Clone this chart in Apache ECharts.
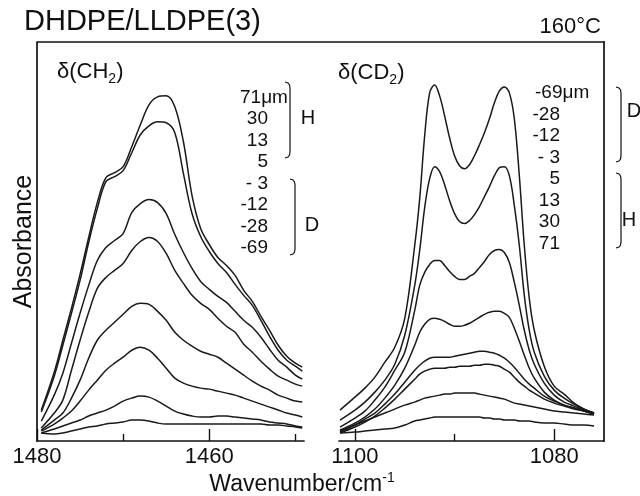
<!DOCTYPE html>
<html>
<head>
<meta charset="utf-8">
<script src="https://cdn.jsdelivr.net/npm/echarts@6/dist/echarts.min.js"></script>
<style>
  html, body { margin: 0; padding: 0; background: #fff; }
  #chart { width: 640px; height: 496px; }
</style>
</head>
<body>
<div id="chart"></div>
<script>
// ---------- DATA ----------
const title = 'DHDPE/LLDPE(3)';
const temperature = '160°C';
const yAxisTitle = 'Absorbance';

// Left panel: delta(CH2) band, wavenumber (cm-1)
const leftWn = [1479.5,1478,1477,1476,1475,1474,1473,1472,1471,1470,1469,1468,1467,1466,1465,1464,1463,1462,1461,1460,1459,1458,1457,1456,1455,1454,1453,1452,1451,1450,1449.2];
const leftTicksMajor = [1480, 1460];
const leftTicksMinor = [1470, 1450];
const leftDepth = ['71μm', '30', '13', '5', '- 3', '-12', '-28', '-69'];
const ch2_71 = [31,69,101,133,167,204,239,264,269,275,295,317,337,345,346,335,300,246,213,197,184,176,166,151,140,125,111,96,85,78,74];
const ch2_30 = [29,65,96,128,161,199,233,260,265,271,289,307,316,320,319,309,268,228,205,190,178,169,157,146,136,121,105,91,81,75,70];
const ch2_13 = [20,46,68,98,128,156,181,194,201,208,229,238,242,239,228,207,189,173,160,152,145,139,130,121,114,104,92,81,74,66,62];
const ch2_5  = [13,28,41,71,101,129,153,164,171,178,191,200,204,200,188,171,158,146,138,132,123,115,109,97,89,80,72,65,61,57,55];
const ch2_m3 = [11,21,28,43,61,83,101,111,119,127,135,138,137,130,121,109,101,95,90,87,84,78,72,66,60,55,51,46,43,40,39];
const ch2_m12= [10,17,23,30,40,51,61,71,78,84,91,94,91,83,73,63,58,55,53,52,50,48,46,43,40,37,34,31,28,26,24];
const ch2_m28= [8,12,15,18,21,25,28,31,35,40,43,45,44,40,35,30,27,25,24,24,25,25,24,23,22,21,19,18,17,15,14];
const ch2_m69= [8,7,8,10,12,14,15,17,18,19,21,21,20,18,17,17,17,17,17,17,17,17,17,17,17,17,16,16,15,14,13];

// Right panel: delta(CD2) band
const rightWn = [1101.5,1100,1099,1098,1097,1096,1095,1094,1093.5,1093,1092.5,1092,1091.5,1091,1090.5,1090,1089.5,1089,1088.5,1088,1087.5,1087,1086.5,1086,1085.5,1085,1084.5,1084,1083.5,1083,1082.5,1082,1081,1080,1079,1078,1077,1076];
const rightTicksMajor = [1100, 1080];
const rightTicksMinor = [1090];
const rightDepth = ['-69μm', '-28', '-12', '- 3', '5', '13', '30', '71'];
const cd2_m69 = [31,44,53,64,79,94,123,196,243,306,349,357,346,326,304,286,276,273,277,286,297,309,323,339,351,355,349,323,266,196,143,111,75,55,47,38,32,28];
const cd2_m28 = [21,31,39,49,61,77,106,156,191,234,263,275,270,257,241,228,220,218,221,227,235,245,255,266,274,275,266,236,196,146,111,89,65,51,43,37,32,28];
const cd2_m12 = [14,23,30,41,54,71,89,131,156,169,177,181,181,176,170,165,162,162,165,168,174,180,187,191,192,189,179,159,136,111,91,77,58,46,39,35,31,28];
const cd2_m3  = [11,18,24,32,43,56,73,96,109,117,122,123,122,120,117,115,115,116,118,121,124,127,129,130,130,128,124,113,100,86,73,63,49,41,36,33,30,27];
const cd2_5   = [9,16,22,28,37,47,59,71,76,80,83,84,84,84,84,85,86,87,88,89,90,90,89,88,86,83,79,74,68,62,57,53,45,40,36,33,30,27];
const cd2_13  = [8,14,19,25,33,42,52,62,67,70,72,73,73,73,74,74,75,75,75,76,76,77,77,76,75,72,69,64,59,55,51,48,42,38,35,32,30,27];
const cd2_30  = [10,16,20,24,28,32,36,39,41,43,44,45,46,47,47,48,48,48,48,48,47,46,45,44,43,42,40,38,37,36,35,34,32,30,29,28,27,26];
const cd2_71  = [8,9,10,11,12,13,16,20,21,22,23,24,24,24,24,24,24,24,24,24,24,23,23,22,22,21,21,21,20,20,20,19,18,18,17,16,16,15];

// ---------- CHART ----------
const FONT = '"Liberation Sans", Arial, Helvetica, sans-serif';
const INK = '#111';
const chart = echarts.init(document.getElementById('chart'), null, { renderer: 'canvas' });

const leftSeries = [ch2_71, ch2_30, ch2_13, ch2_5, ch2_m3, ch2_m12, ch2_m28, ch2_m69];
const rightSeries = [cd2_m69, cd2_m28, cd2_m12, cd2_m3, cd2_5, cd2_13, cd2_30, cd2_71];

function mkLine(name, wn, vals, xi, yi) {
  return {
    name: name, type: 'line', xAxisIndex: xi, yAxisIndex: yi,
    data: wn.map((w, i) => [w, vals[i]]),
    showSymbol: false, smooth: 0.35, silent: true,
    lineStyle: { color: '#1a1a1a', width: 1.5 }
  };
}
const series = [];
leftSeries.forEach((s, i) => series.push(mkLine('δ(CH2) ' + leftDepth[i], leftWn, s, 0, 0)));
rightSeries.forEach((s, i) => series.push(mkLine('δ(CD2) ' + rightDepth[i], rightWn, s, 2, 1)));

const axisLineStyle = { show: true, lineStyle: { color: INK, width: 1.7 } };
function mainX(grid, min, max, major) {
  return {
    type: 'value', gridIndex: grid, position: 'bottom', min: min, max: max, inverse: true,
    axisLine: axisLineStyle,
    axisTick: { show: true, inside: true, length: 12, customValues: major, lineStyle: { color: INK, width: 1.4 } },
    axisLabel: { show: true, customValues: major, fontSize: 22, color: INK, fontFamily: FONT, margin: 5,
                 formatter: v => String(v) },
    splitLine: { show: false }
  };
}
function minorX(grid, min, max, minor) {
  return {
    type: 'value', gridIndex: grid, position: 'bottom', min: min, max: max, inverse: true,
    axisLine: { show: false },
    axisTick: { show: true, inside: true, length: 7, customValues: minor, lineStyle: { color: INK, width: 1.4 } },
    axisLabel: { show: false },
    splitLine: { show: false }
  };
}

function bracket(x, top, bottom) {
  return {
    type: 'polyline', silent: true,
    shape: { points: [[x-5, top], [x-2, top+1], [x-0.5, top+3], [x, top+6], [x, bottom-6], [x-0.5, bottom-3], [x-2, bottom-1], [x-5, bottom]] },
    style: { stroke: INK, lineWidth: 1.2, fill: null }
  };
}
function txt(text, x, y, size, align, extra) {
  return Object.assign({
    type: 'text', silent: true, x: x, y: y,
    style: { text: text, font: `${size}px ${FONT}`, fill: INK, align: align || 'left', verticalAlign: 'middle' }
  }, extra || {});
}

const graphics = [
  // top frame line spanning both panels
  { type: 'line', silent: true, shape: { x1: 37, y1: 42, x2: 605, y2: 42 }, style: { stroke: INK, lineWidth: 1.7 } },
  txt(title, 24, 22, 29, 'left'),
  txt(temperature, 601, 27, 22, 'right'),
  { type: 'text', silent: true, x: 57, y: 72,
    style: { text: '{a|δ(CH}{b|2}{a|)}', font: `22px ${FONT}`, fill: INK, align: 'left', verticalAlign: 'middle',
      rich: { a: { fontSize: 22, lineHeight: 28, fontFamily: FONT, verticalAlign: 'middle' },
              b: { fontSize: 14, lineHeight: 14, fontFamily: FONT, verticalAlign: 'bottom' } } } },
  { type: 'text', silent: true, x: 338, y: 73,
    style: { text: '{a|δ(CD}{b|2}{a|)}', font: `22px ${FONT}`, fill: INK, align: 'left', verticalAlign: 'middle',
      rich: { a: { fontSize: 22, lineHeight: 28, fontFamily: FONT, verticalAlign: 'middle' },
              b: { fontSize: 14, lineHeight: 14, fontFamily: FONT, verticalAlign: 'bottom' } } } },
  { type: 'text', silent: true, x: 302, y: 485,
    style: { text: '{a|Wavenumber/cm}{b|-1}', font: `23px ${FONT}`, fill: INK, align: 'center', verticalAlign: 'middle',
      rich: { a: { fontSize: 23, lineHeight: 28, fontFamily: FONT, verticalAlign: 'middle' },
              b: { fontSize: 14, lineHeight: 14, fontFamily: FONT, verticalAlign: 'top' } } } },
  bracket(290, 82, 158), txt('H', 308, 118, 20, 'center'),
  bracket(295, 179, 255), txt('D', 312, 225, 20, 'center'),
  bracket(621, 87, 162), txt('D', 634, 111, 20, 'center'),
  bracket(621, 173, 248), txt('H', 629, 220, 20, 'center')
];
const step = 21.5;
leftDepth.forEach((t, i) => {
  const y = 97.5 + i * step;
  graphics.push(t.indexOf('μm') >= 0 ? txt(t, 240, y, 19, 'left') : txt(t, 268, y, 19, 'right'));
});
rightDepth.forEach((t, i) => {
  const y = 93 + i * step;
  graphics.push(t.indexOf('μm') >= 0 ? txt(t, 535, y, 19, 'left') : txt(t, 560, y, 19, 'right'));
});

chart.setOption({
  animation: false,
  backgroundColor: '#fff',
  grid: [
    { left: 37, top: 42, width: 267, height: 399 },
    { left: 339, top: 42, width: 265, height: 399 }
  ],
  xAxis: [
    mainX(0, 1449, 1480, leftTicksMajor),
    minorX(0, 1449, 1480, leftTicksMinor),
    mainX(1, 1075, 1101.6, rightTicksMajor),
    minorX(1, 1075, 1101.6, rightTicksMinor)
  ],
  yAxis: [
    { type: 'value', gridIndex: 0, position: 'left', min: 0, max: 400,
      name: yAxisTitle, nameLocation: 'middle', nameRotate: 90, nameGap: 0,
      nameTextStyle: { fontSize: 25, color: INK, fontFamily: FONT },
      axisLine: axisLineStyle, axisTick: { show: false }, axisLabel: { show: false }, splitLine: { show: false } },
    { type: 'value', gridIndex: 1, position: 'right', min: 0, max: 400,
      axisLine: axisLineStyle, axisTick: { show: false }, axisLabel: { show: false }, splitLine: { show: false } }
  ],
  series: series,
  graphic: graphics
});
</script>
</body>
</html>
